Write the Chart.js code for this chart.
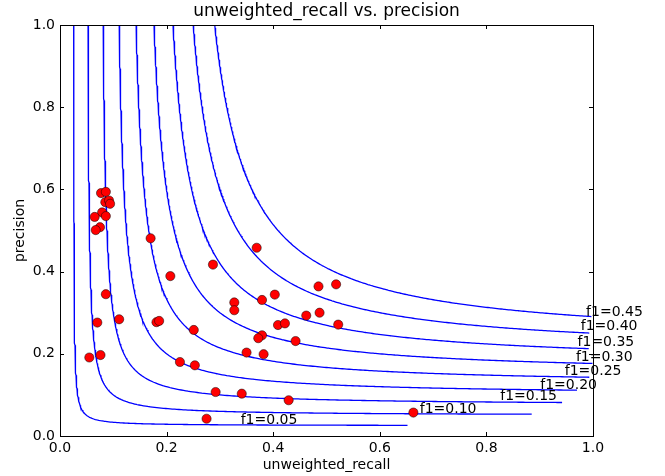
<!DOCTYPE html>
<html>
<head>
<meta charset="utf-8">
<script src="https://cdn.jsdelivr.net/npm/chart.js@4"></script>
<style>
  html, body { margin: 0; padding: 0; background: #fff; }
  canvas { display: block; }
</style>
</head>
<body>
<canvas id="grafico" width="665" height="476"></canvas>
<script>
// puntos (recall, precision)
const recall = [0.077, 0.086, 0.085, 0.092, 0.094, 0.079, 0.086, 0.065, 0.075, 0.067,
  0.170, 0.207, 0.086, 0.070, 0.111, 0.181, 0.186, 0.055, 0.076, 0.225,
  0.369, 0.287, 0.485, 0.518, 0.327, 0.327, 0.379, 0.403, 0.462, 0.487,
  0.522, 0.251, 0.409, 0.422, 0.379, 0.372, 0.442, 0.253, 0.350, 0.382,
  0.292, 0.341, 0.429, 0.275, 0.663];
const precision = [0.591, 0.594, 0.569, 0.573, 0.565, 0.544, 0.535, 0.533, 0.508, 0.501,
  0.481, 0.389, 0.345, 0.276, 0.284, 0.277, 0.280, 0.191, 0.197, 0.180,
  0.458, 0.417, 0.364, 0.369, 0.325, 0.306, 0.331, 0.344, 0.293, 0.300,
  0.271, 0.258, 0.270, 0.274, 0.245, 0.238, 0.231, 0.172, 0.203, 0.199,
  0.107, 0.103, 0.087, 0.042, 0.057];

// curvas iso-f1 y donde termina cada una (recall)
const f1Levels = [0.05, 0.10, 0.15, 0.20, 0.25, 0.30, 0.35, 0.40, 0.45];
const f1EndRecall = [0.652, 0.885, 0.942, 0.970, 0.993, 0.999, 0.992, 0.993, 0.997];
const tickValues = [0, 0.2, 0.4, 0.6, 0.8, 1.0];

// donde va cada etiqueta f1 (coordenadas de datos, borde izquierdo / centro)
const f1LabelPos = [[0.339, 0.039], [0.675, 0.066], [0.826, 0.097], [0.901, 0.124], [0.947, 0.158],
  [0.968, 0.192], [0.971, 0.227], [0.977, 0.266], [0.987, 0.302]];

const FONT = "'DejaVu Sans', sans-serif";

function curvaF1(f, rEnd) {
  const r0 = f / (2 - f);
  const pEnd = f * rEnd / (2 * rEnd - f);
  const pts = [];
  const n = 200;
  for (let i = 0; i <= n; i++) {
    const r = r0 + (rEnd - r0) * i / n;
    pts.push({ x: r, y: f * r / (2 * r - f) });
  }
  for (let i = 1; i < n; i++) {
    const p = 1 - (1 - pEnd) * i / n;
    pts.push({ x: f * p / (2 * p - f), y: p });
  }
  pts.sort((a, b) => a.x - b.x);
  return pts;
}

const datasets = [{
  label: "puntos",
  data: recall.map((r, i) => ({ x: r, y: precision[i] })),
  pointRadius: 4.6,
  pointHoverRadius: 4.6,
  backgroundColor: "#ff0000",
  borderColor: "#000000",
  borderWidth: 0.5,
  showLine: false
}];
f1Levels.forEach((f, i) => {
  datasets.push({
    label: "f1=" + f.toFixed(2),
    data: curvaF1(f, f1EndRecall[i]),
    showLine: true,
    pointRadius: 0,
    borderColor: "#0000ff",
    borderWidth: 1.3,
    tension: 0
  });
});

const decoracion = {
  id: "decoracion",
  afterDraw(chart) {
    const { ctx, chartArea: a, scales } = chart;
    const sx = scales.x, sy = scales.y;
    ctx.save();
    // ticks hacia adentro
    ctx.strokeStyle = "#000";
    ctx.lineWidth = 1;
    ctx.beginPath();
    tickValues.forEach(v => {
      const px = Math.round(sx.getPixelForValue(v)) + 0.5;
      ctx.moveTo(px, a.bottom); ctx.lineTo(px, a.bottom - 4);
      ctx.moveTo(px, a.top); ctx.lineTo(px, a.top + 4);
      const py = Math.round(sy.getPixelForValue(v)) + 0.5;
      ctx.moveTo(a.left, py); ctx.lineTo(a.left + 4, py);
      ctx.moveTo(a.right, py); ctx.lineTo(a.right - 4, py);
    });
    ctx.stroke();
    // marco
    ctx.strokeRect(Math.round(a.left) + 0.5, Math.round(a.top) + 0.5,
      Math.round(a.right - a.left), Math.round(a.bottom - a.top));

    ctx.fillStyle = "#000";
    // titulo
    ctx.font = "17px " + FONT;
    ctx.textAlign = "center";
    ctx.textBaseline = "middle";
    ctx.fillText("unweighted_recall vs. precision", (a.left + a.right) / 2, 12);
    // ejes
    ctx.font = "14px " + FONT;
    ctx.fillText("unweighted_recall", (a.left + a.right) / 2, 465);
    ctx.save();
    ctx.translate(20, (a.top + a.bottom) / 2);
    ctx.rotate(-Math.PI / 2);
    ctx.fillText("precision", 0, 0);
    ctx.restore();
    // etiquetas f1
    ctx.textAlign = "left";
    f1Levels.forEach((f, i) => {
      const [lx, ly] = f1LabelPos[i];
      ctx.fillText("f1=" + f.toFixed(2), sx.getPixelForValue(lx), sy.getPixelForValue(ly));
    });
    ctx.restore();
  }
};

const ejeComun = {
  type: "linear",
  min: 0,
  max: 1,
  grid: { display: false, drawTicks: false },
  border: { display: false },
  ticks: {
    stepSize: 0.2,
    autoSkip: false,
    color: "#000",
    font: { family: FONT, size: 14 },
    callback: v => Number(v).toFixed(1)
  }
};

new Chart(document.getElementById("grafico").getContext("2d"), {
  type: "scatter",
  data: { datasets },
  options: {
    responsive: false,
    animation: false,
    devicePixelRatio: 1,
    layout: { padding: { top: 25, right: 72, left: 0, bottom: 0 } },
    plugins: { legend: { display: false }, tooltip: { enabled: false } },
    scales: {
      x: { ...ejeComun, ticks: { ...ejeComun.ticks, padding: 4 },
        afterFit: s => { s.height = 40; } },
      y: { ...ejeComun, ticks: { ...ejeComun.ticks, padding: 5 },
        afterFit: s => { s.width = 60; } }
    }
  },
  plugins: [decoracion]
});
</script>
</body>
</html>
